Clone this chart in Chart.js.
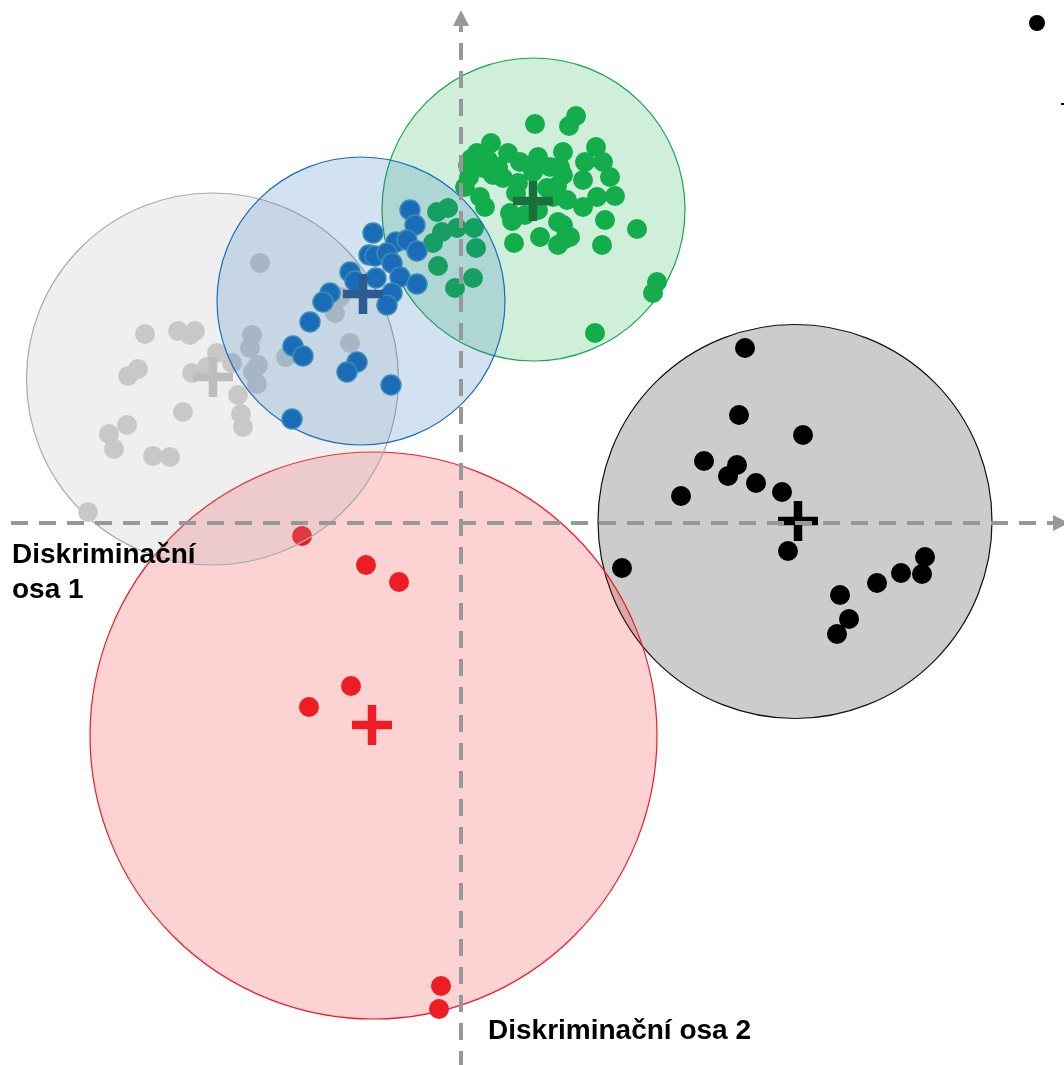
<!DOCTYPE html>
<html>
<head>
<meta charset="utf-8">
<script src="https://cdn.jsdelivr.net/npm/chart.js@4.4.1/dist/chart.umd.min.js"></script>
<style>
html,body{margin:0;padding:0;background:#fff;overflow:hidden}
canvas{display:block}
</style>
</head>
<body>
<canvas id="lda" width="1064" height="1065"></canvas>
<script>
// skore skupin na diskriminacnich osach (osa 1 = x, osa 2 = y)
const groups = ["A","B","C","D","E"]; // cerna, cervena, seda, zelena, modra

const blackX = [2.84,2.78,3.42,2.43,2.76,2.67,2.95,3.21,2.20,3.27,1.61,4.64,4.61,4.40,4.16,3.79,3.88,3.76];
const blackY = [1.75,1.08,0.88,0.62,0.58,0.47,0.40,0.31,0.27,-0.28,-0.45,-0.34,-0.51,-0.50,-0.60,-0.72,-0.96,-1.11];

const redX = [-1.59,-0.95,-0.62,-1.10,-1.52,-0.20,-0.22];
const redY = [-0.13,-0.42,-0.59,-1.63,-1.84,-4.63,-4.86];

const greyX = [-2.01,-1.21,-1.26,-1.11,-2.09,-2.11,-1.75,-2.03,-2.08,-2.04,-2.23,-2.20,-2.18,-3.16,-2.83,
  -2.66,-2.71,-2.44,-2.54,-2.69,-2.29,-3.23,-3.33,-2.78,-3.34,-3.52,-3.47,-3.08,-2.91,-3.73];
const greyY = [2.60,2.26,2.10,1.80,1.88,1.75,1.66,1.58,1.51,1.39,1.28,1.09,0.96,1.89,1.92,
  1.92,1.88,1.70,1.56,1.50,1.60,1.54,1.47,1.11,0.98,0.89,0.74,0.67,0.66,0.11];

const greenX = [0.74,1.15,1.08,0.30,0.16,0.07,0.22,0.47,0.59,0.77,1.02,1.35,1.24,1.42,1.49,
  1.22,1.02,0.89,0.42,0.57,0.04,0.19,0.24,1.54,1.36,1.22,1.06,0.92,0.96,0.49,
  0.51,0.64,0.77,0.97,1.02,1.44,0.53,0.79,1.04,0.97,1.41,1.09,0.86,0.72,0.99,
  0.32,1.76,1.96,1.92,1.34,-0.24,-0.13,-0.19,-0.28,-0.04,0.13,0.15,-0.23,-0.06,0.12,
  0.10,0.27,0.37,0.08,0.55];
const greenY = [3.99,4.07,3.97,3.80,3.70,3.58,3.55,3.70,3.61,3.66,3.71,3.76,3.61,3.61,3.46,
  3.43,3.48,3.56,3.45,3.40,3.36,3.26,3.16,3.27,3.26,3.16,3.23,3.26,3.37,3.10,
  3.02,3.08,3.13,3.01,2.98,3.03,2.80,2.86,2.84,2.78,2.78,2.86,3.35,3.51,3.56,
  3.48,2.94,2.41,2.30,1.90,3.11,3.15,2.91,2.80,2.95,2.95,2.75,2.57,2.35,2.45,
  3.64,3.63,3.56,3.46,3.30];

const blueX = [-0.51,-0.46,-0.88,-0.65,-0.54,-0.44,-0.92,-0.86,-0.74,-0.69,-0.61,-0.85,-1.11,
  -1.06,-0.44,-0.69,-0.74,-1.31,-1.38,-1.51,-1.68,-1.58,-1.04,-1.14,-0.70,-1.69];
const blueY = [3.13,2.98,2.90,2.81,2.83,2.72,2.68,2.67,2.70,2.60,2.46,2.45,2.51,
  2.42,2.39,2.30,2.18,2.30,2.21,2.01,1.77,1.67,1.61,1.51,1.38,1.04];

// centroidy a kruhy skupin (stejne poradi jako groups)
const centroidX = [3.37,-0.89,-2.48,0.72,-0.98];
const centroidY = [0.02,-2.02,1.46,3.22,2.29];
const circleX = [3.34,-0.875,-2.485,0.725,-1.00];
const circleY = [0.015,-2.125,1.44,3.135,2.22];
const circleR = [1.97,2.835,1.86,1.515,1.44];

const xs = [blackX, redX, greyX, greenX, blueX];
const ys = [blackY, redY, greyY, greenY, blueY];

// styly
const pointFill = ["#000000","#ee1c25","#c8c8c8","#13ad4b","#1a6cb8"];
const pointEdge = ["#000000","#ee1c25","#c8c8c8","#13ad4b","#3a8db5"];
const ringFill = ["rgba(0,0,0,0.2)","rgba(238,28,37,0.2)","rgba(175,175,175,0.2)","rgba(20,174,76,0.2)","rgba(30,110,185,0.2)"];
const ringEdge = ["#111111","#ee1c25","#aaaaaa","#19a64f","#1a6dbd"];
const crossCol = ["#000000","#ee1c25","#bdbdbd","#19703a","#2b5b91"];

const datasets = [];
let seq = 0;
groups.forEach((g,i)=>{
  datasets.push({
    label: g,
    ring: i,
    data: xs[i].map((v,k)=>({x:v, y:ys[i][k]})),
    pointRadius: 10,
    pointBackgroundColor: pointFill[i],
    pointBorderColor: pointEdge[i],
    pointBorderWidth: i==4 ? 1.5 : 0,
    order: 100 - seq++
  });
  datasets.push({
    label: g + " centroid",
    data: [{x:centroidX[i], y:centroidY[i]}],
    pointStyle: "cross",
    pointRadius: 20,
    pointBorderWidth: 8.5,
    pointBorderColor: crossCol[i],
    order: 100 - seq++
  });
});

const rings = {
  id: "rings",
  beforeDatasetDraw(chart, args){
    const ds = chart.data.datasets[args.index];
    if(ds.ring === undefined) return;
    const i = ds.ring, sx = chart.scales.x, sy = chart.scales.y, ctx = chart.ctx;
    const cx = sx.getPixelForValue(circleX[i]), cy = sy.getPixelForValue(circleY[i]);
    const r = sx.getPixelForValue(circleX[i] + circleR[i]) - cx;
    ctx.save();
    ctx.beginPath();
    ctx.arc(cx, cy, r, 0, Math.PI*2);
    ctx.fillStyle = ringFill[i];
    ctx.fill();
    ctx.lineWidth = 1.2;
    ctx.strokeStyle = ringEdge[i];
    ctx.stroke();
    ctx.restore();
  }
};

const axes = {
  id: "axes",
  afterDatasetsDraw(chart){
    const ctx = chart.ctx, sx = chart.scales.x, sy = chart.scales.y;
    const x0 = sx.getPixelForValue(0), y0 = sy.getPixelForValue(0);
    const W = chart.width, H = chart.height;
    ctx.save();
    ctx.strokeStyle = "#989898";
    ctx.fillStyle = "#989898";
    ctx.lineWidth = 4;
    ctx.setLineDash([17,11]);
    // osa 1
    ctx.beginPath();
    ctx.moveTo(11, y0);
    ctx.lineTo(W - 11, y0);
    ctx.stroke();
    // osa 2
    ctx.lineDashOffset = 11;
    ctx.beginPath();
    ctx.moveTo(x0, 26);
    ctx.lineTo(x0, H);
    ctx.stroke();
    ctx.setLineDash([]);
    // sipky
    ctx.beginPath();
    ctx.moveTo(W - 11, y0 - 8);
    ctx.lineTo(W + 5, y0);
    ctx.lineTo(W - 11, y0 + 8);
    ctx.closePath();
    ctx.fill();
    ctx.beginPath();
    ctx.moveTo(x0 - 8, 26);
    ctx.lineTo(x0, 10);
    ctx.lineTo(x0 + 8, 26);
    ctx.closePath();
    ctx.fill();

    // popisky os
    ctx.fillStyle = "#000";
    ctx.font = 'bold 28px "Liberation Sans", Arial, sans-serif';
    ctx.textBaseline = "alphabetic";
    ctx.fillText("Diskriminační", 12, y0 + 40);
    ctx.fillText("osa 1", 12, y0 + 75);
    ctx.fillText("Diskriminační osa 2", x0 + 27, H - 26);

    // legenda (oriznuta vpravo nahore)
    ctx.beginPath();
    ctx.arc(W - 27, 23, 8, 0, Math.PI*2);
    ctx.fill();
    ctx.fillRect(W - 3, 103, 3, 2);
    ctx.restore();
  }
};

new Chart(document.getElementById("lda"), {
  type: "scatter",
  data: { datasets },
  options: {
    responsive: false,
    animation: false,
    layout: { padding: 0, autoPadding: false },
    plugins: { legend:{display:false}, tooltip:{enabled:false} },
    events: [],
    scales: {
      x: { type:"linear", min:-4.61, max:6.03, display:false },
      y: { type:"linear", min:-5.42, max:5.23, display:false }
    }
  },
  plugins: [rings, axes]
});
</script>
</body>
</html>
